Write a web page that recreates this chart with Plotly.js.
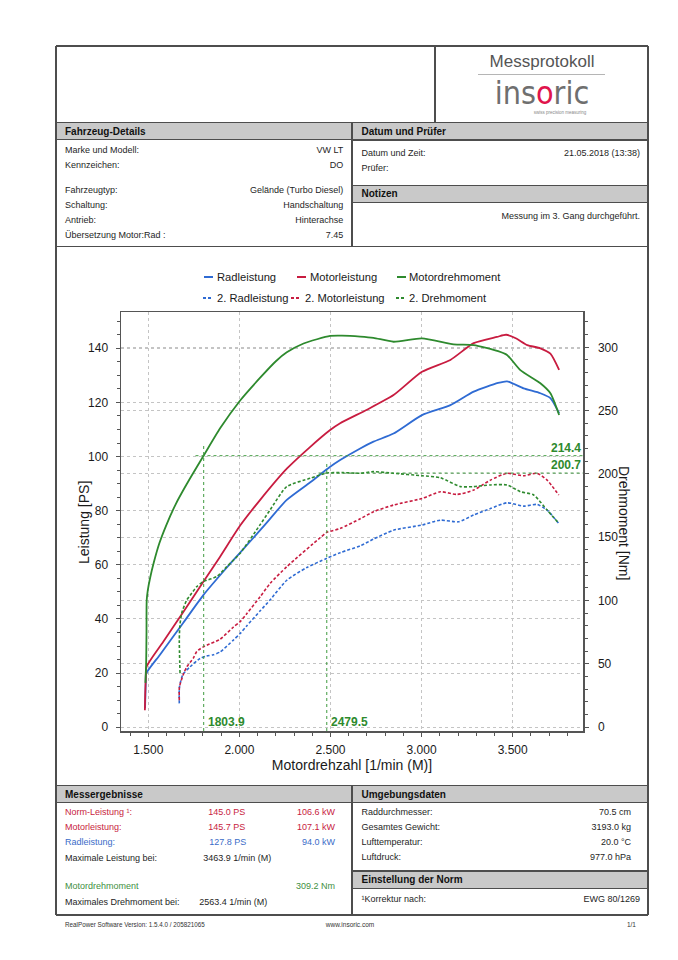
<!DOCTYPE html>
<html><head><meta charset="utf-8">
<script src="https://cdn.plot.ly/plotly-3.0.1.min.js"></script>
<style>
html,body{margin:0;padding:0;background:#fff;}
#page{position:relative;width:678px;height:960px;overflow:hidden;background:#fff;font-family:'Liberation Sans',Arial,sans-serif;}
#chart{position:absolute;left:0;top:0;width:678px;height:960px;}
#form{position:absolute;left:0;top:0;width:678px;height:960px;pointer-events:none;}
.t{position:absolute;font-size:9px;line-height:11px;color:#1e1e1e;white-space:nowrap;}
.b{font-weight:bold;font-size:10px;line-height:12px;color:#111;}
.ln{position:absolute;background:#4d4d4d;}
.band{position:absolute;background:#c9c9c9;}
</style></head>
<body>
<div id="page">
  <div id="chart"></div>
  <div id="form"></div>
</div>
<script>
// ---------------- data ----------------
const rpmRad   = [1482,1484,1486,1488,1564,1692,1802,1931,2004,2114,2168,2260,2389,2498,2553,2663,2736,2846,3002,3158,3286,3420,3469,3560,3652,3707,3755];
const psRad    = [7,12,17,19.8,26.8,38.6,48.8,59,64.5,72.8,77,84,90.5,96.2,98.7,103,105.5,108.5,115.3,119,124,127.2,127.8,125.2,123.4,121.6,116];

const rpmMotor = [1481,1483,1486,1490,1582,1692,1802,1894,2004,2114,2260,2389,2498,2553,2700,2846,3002,3158,3286,3414,3464,3520,3580,3652,3707,3755];
const psMotor  = [6.3,12.5,18,22.3,31.6,42.6,53.7,63,74.5,84,95.5,103.6,109.8,112.3,117.3,122.7,131.3,135.7,141.9,144.2,145,143.6,141.2,140,138,132];

const rpmTorque = [1484,1488,1490,1491,1497,1510,1530,1560,1600,1650,1711,1802,1894,2004,2114,2200,2260,2352,2498,2563,2663,2736,2846,3002,3176,3286,3420,3469,3542,3652,3707,3755];
const nmTorque  = [35,50,75,100,108,118,130,145,160,176,192,214,236,258,276,289,296,303,309,309.2,308.5,307.5,304.4,307,302.4,301.8,297,294,282,271.6,263.7,246.5];

const rpmRad2 = [1670,1671,1690,1729,1784,1820,1857,1894,1967,2004,2041,2114,2168,2260,2370,2480,2553,2663,2736,2846,3002,3103,3203,3286,3378,3469,3560,3634,3689,3753];
const psRad2  = [8.8,14.9,19.5,22.3,25.4,26.3,26.8,27.8,32.2,34.6,37.5,43,47,54.3,59,62.4,64.5,67,69.5,72.8,74.7,76.5,75.9,78.4,80.8,82.9,81.7,82.3,80.2,75.3];

const rpmMotor2 = [1670,1671,1692,1711,1747,1766,1802,1821,1894,1967,2004,2041,2114,2168,2260,2443,2480,2553,2663,2736,2846,3002,3103,3194,3286,3378,3469,3560,3634,3689,3753];
const psMotor2  = [10,14.9,19.5,22.3,25.5,28,29.7,30.3,32.5,37,39,42,48.2,53.1,59.3,70,72,73.4,77,79.6,82.1,84.5,87,86,87.6,91.3,93.8,92.9,93.8,91.3,85.8];

const rpmTorque2 = [1674,1670,1673,1683,1711,1729,1766,1802,1876,1931,2004,2114,2168,2260,2389,2480,2571,2663,2736,2846,3002,3103,3213,3286,3378,3469,3542,3615,3689,3753];
const nmTorque2  = [42.6,69,80,90,100.5,104,111,115,119,126.8,137.4,160,171.5,190,196.6,200.7,201,200.5,201.8,200.5,198.6,197,190,190,191.3,191.3,186,183.4,171.5,161];

const markRpm = [1803.9, 2479.5];
const markNm  = [214.4, 200.7];

const seriesNames = ['Radleistung','Motorleistung','Motordrehmoment','2. Radleistung','2. Motorleistung','2. Drehmoment'];
const xTitle = 'Motordrehzahl [1/min (M)]';
const yTitle = 'Leistung [PS]';
const y2Title = 'Drehmoment [Nm]';

// ---------------- styles / geometry ----------------
const BLUE='#2f6bd3', RED='#c81c40', GREEN='#2e8a2e', MARK='#3f9a3f';
const ML=121, MR=95, MT=312, MB=229, W=678, H=960;
const PW=W-ML-MR, PH=H-MT-MB;
const xRange=[1350,3886], yRange=[-1.404,153.41], y2Range=[-3.0,327.88];
const px=x=>(x-ML)/PW, py=y=>(MT+PH-y)/PH;

const solid=(c)=>({color:c,width:1.8,shape:'spline',smoothing:0.6});
const dashed=(c)=>({color:c,width:1.6,dash:'3px,2px',shape:'spline',smoothing:0.6});

const traces=[
  {x:rpmRad,y:psRad,name:seriesNames[0],line:solid(BLUE)},
  {x:rpmMotor,y:psMotor,name:seriesNames[1],line:solid(RED)},
  {x:rpmTorque,y:nmTorque,name:seriesNames[2],line:solid(GREEN),yaxis:'y2'},
  {x:rpmRad2,y:psRad2,name:seriesNames[3],line:dashed(BLUE)},
  {x:rpmMotor2,y:psMotor2,name:seriesNames[4],line:dashed(RED)},
  {x:rpmTorque2,y:nmTorque2,name:seriesNames[5],line:dashed(GREEN),yaxis:'y2'}
].map(t=>Object.assign({type:'scatter',mode:'lines',hoverinfo:'skip'},t));

const gridStyle={showgrid:true,gridcolor:'#c4c4c4',gridwidth:1,griddash:'3px,3px',zeroline:false};
const axStyle={showline:true,linecolor:'#555',linewidth:1.5,ticks:'outside',ticklen:4,tickcolor:'#555',tickwidth:1,
  tickfont:{size:12,color:'#1a1a1a'}};

const shapes=[], annotations=[];
// crosshair markers
markRpm.forEach((r,i)=>{
  shapes.push({type:'line',xref:'x',yref:'y2',x0:r-45,x1:xRange[1],y0:markNm[i],y1:markNm[i],line:{color:MARK,width:1,dash:'dot'}});
  shapes.push({type:'line',xref:'x',yref:'y2',x0:r,x1:r,y0:y2Range[0],y1:markNm[i]+8,line:{color:MARK,width:1,dash:'dot'}});
  annotations.push({xref:'x',yref:'paper',x:r,y:0,xanchor:'left',yanchor:'bottom',xshift:2,yshift:0,showarrow:false,
    text:'<b>'+r.toFixed(1)+'</b>',font:{size:12,color:GREEN}});
  annotations.push({xref:'paper',yref:'y2',x:1,y:markNm[i],xanchor:'right',yanchor:'bottom',showarrow:false,yshift:-1,
    text:'<b>'+markNm[i].toFixed(1)+'</b>',font:{size:12,color:GREEN}});
});
// manual legend
const legItems=[
  {x0:204,y:277,c:BLUE,d:'solid',tx:215},{x0:297,y:277,c:RED,d:'solid',tx:308},{x0:397,y:277,c:GREEN,d:'solid',tx:407},
  {x0:203,y:298,c:BLUE,d:'3px,2px',tx:215},{x0:291,y:298,c:RED,d:'3px,2px',tx:303},{x0:396,y:298,c:GREEN,d:'3px,2px',tx:407}
];
legItems.forEach((it,i)=>{
  shapes.push({type:'line',xref:'paper',yref:'paper',x0:px(it.x0),x1:px(it.x0+9),y0:py(it.y),y1:py(it.y),line:{color:it.c,width:2,dash:it.d}});
  annotations.push({xref:'paper',yref:'paper',x:px(it.tx),y:py(it.y),xanchor:'left',yanchor:'middle',showarrow:false,
    text:seriesNames[i],font:{size:11.2,color:'#1a1a1a'}});
});
// y axis titles
annotations.push({xref:'paper',yref:'paper',x:px(84),y:py(523),xanchor:'center',yanchor:'middle',showarrow:false,textangle:-90,
  text:yTitle,font:{size:14,color:'#1a1a1a'}});
annotations.push({xref:'paper',yref:'paper',x:px(624),y:py(523),xanchor:'center',yanchor:'middle',showarrow:false,textangle:90,
  text:y2Title,font:{size:14,color:'#1a1a1a'}});

const layout={
  width:W,height:H,margin:{l:ML,r:MR,t:MT,b:MB,pad:0},
  paper_bgcolor:'rgba(0,0,0,0)',plot_bgcolor:'rgba(0,0,0,0)',
  showlegend:false,separators:',.',
  font:{family:'Liberation Sans, Arial, sans-serif',color:'#1a1a1a'},
  xaxis:Object.assign({},axStyle,gridStyle,{range:xRange,tickmode:'linear',tick0:1500,dtick:500,separatethousands:true,
    mirror:true,ticklabelstandoff:3,
    minor:{dtick:100,ticks:'outside',ticklen:3,tickcolor:'#555',showgrid:false},
    title:{text:xTitle,font:{size:14,color:'#1a1a1a'},standoff:0}}),
  yaxis:Object.assign({},axStyle,gridStyle,{range:yRange,tickmode:'linear',tick0:0,dtick:20,ticklabelstandoff:5,
    minor:{dtick:5,ticks:'outside',ticklen:3,tickcolor:'#555',showgrid:false}}),
  yaxis2:Object.assign({},axStyle,gridStyle,{range:y2Range,overlaying:'y',side:'right',tickmode:'linear',tick0:0,dtick:50,
    ticklabelstandoff:7,minor:{dtick:10,ticks:'outside',ticklen:3,tickcolor:'#555',showgrid:false}}),
  shapes:shapes,annotations:annotations
};
Plotly.newPlot('chart',traces,layout,{staticPlot:true,displayModeBar:false});

// ---------------- protocol form (HTML) ----------------
const form=document.getElementById('form');
function box(cls,x0,y0,x1,y1){const d=document.createElement('div');d.className=cls;
  d.style.left=x0+'px';d.style.top=y0+'px';d.style.width=(x1-x0)+'px';d.style.height=(y1-y0)+'px';form.appendChild(d);return d;}
function hl(x0,x1,y){return box('ln',x0,y-0.75,x1,y+0.75);}
function vl(x,y0,y1){return box('ln',x-0.75,y0,x+0.75,y1);}
function txt(s,x,cy,o){o=o||{};const d=document.createElement('div');d.className='t'+(o.bold?' b':'');d.textContent=s;
  let lh=o.bold?5.7:5.3;
  if(o.size){const L=o.lh||Math.round(o.size*1.2);d.style.fontSize=o.size+'px';d.style.lineHeight=L+'px';lh=L/2+o.size*0.05;}
  d.style.top=(cy-lh)+'px';
  if(o.right){d.style.right=(W-x)+'px';} else if(o.center){d.style.left=(x-150)+'px';d.style.width='300px';d.style.textAlign='center';}
  else d.style.left=x+'px';
  if(o.color)d.style.color=o.color; if(o.family)d.style.fontFamily=o.family;
  form.appendChild(d);return d;}

const FL=56, FR=648, FT=46, FB=915, DV=352;
// gray bands
box('band',FL,122.7,DV,139.5); box('band',DV,122.7,FR,140);
box('band',DV,185.7,FR,202.7);
box('band',FL,785.7,DV,802.3); box('band',DV,785.7,FR,802.3);
box('band',DV,871,FR,888.3);
// frame
hl(FL,FR,FT); hl(FL,FR,FB); vl(FL,FT,FB); vl(FR,FT,FB);
vl(435,FT,122.7); hl(FL,FR,122.7);
hl(FL,DV,139.5); hl(DV,FR,140); hl(DV,FR,185.7); hl(DV,FR,202.7);
vl(DV,122.7,246.7); hl(FL,FR,246.7);
hl(FL,FR,785.7); hl(FL,FR,802.3); vl(DV,785.7,FB);
hl(DV,FR,871); hl(DV,FR,888.3);

// header logo
txt('Messprotokoll',542,63.3,{center:true,size:17,lh:18,color:'#555'});
const sep=box('ln',478,74,605,75); sep.style.background='#b5b5b5';
const logo=txt('',542,95,{center:true,size:32,lh:24,color:'#6f6f6f',family:'"DejaVu Sans Condensed","DejaVu Sans",sans-serif'});
logo.innerHTML='ins<span style="color:#e0144c">o</span>ric';
txt('swiss precision measuring',560,113.2,{center:true,size:4.5,lh:5,color:'#888'});

// section headers
txt('Fahrzeug-Details',65,131.5,{bold:true}); txt('Datum und Prüfer',361.5,131.5,{bold:true});
txt('Notizen',361.5,194,{bold:true});
txt('Messergebnisse',65,794.3,{bold:true}); txt('Umgebungsdaten',361.5,794.3,{bold:true});
txt('Einstellung der Norm',361.5,879.7,{bold:true});

// vehicle details
const vehLabels=['Marke und Modell:','Kennzeichen:','Fahrzeugtyp:','Schaltung:','Antrieb:','Übersetzung Motor:Rad :'];
const vehValues=['VW LT','DO','Gelände (Turbo Diesel)','Handschaltung','Hinterachse','7.45'];
const vehY=[150,165,190,205,220,235];
vehLabels.forEach((s,i)=>{txt(s,65,vehY[i]); txt(vehValues[i],343.3,vehY[i],{right:true});});
txt('Datum und Zeit:',361.5,153.3); txt('21.05.2018 (13:38)',640,153.3,{right:true});
txt('Prüfer:',361.5,168);
txt('Messung im 3. Gang durchgeführt.',640,216.7,{right:true});

// results
const rY=[812.7,827.7,842.7,858.3,886.7,902.3];
const TBLUE='#3a6cc8', TGREEN='#3f8f3f';
txt('Norm-Leistung ¹:',65,rY[0],{color:RED}); txt('145.0 PS',208.3,rY[0],{color:RED}); txt('106.6 kW',335,rY[0],{right:true,color:RED});
txt('Motorleistung:',65,rY[1],{color:RED}); txt('145.7 PS',208.3,rY[1],{color:RED}); txt('107.1 kW',335,rY[1],{right:true,color:RED});
txt('Radleistung:',65,rY[2],{color:TBLUE}); txt('127.8 PS',209.3,rY[2],{color:TBLUE}); txt('94.0 kW',335,rY[2],{right:true,color:TBLUE});
txt('Maximale Leistung bei:',65,rY[3]); txt('3463.9 1/min (M)',203.3,rY[3]);
txt('Motordrehmoment',65,rY[4],{color:TGREEN}); txt('309.2 Nm',335,rY[4],{right:true,color:TGREEN});
txt('Maximales Drehmoment bei:',65,rY[5]); txt('2563.4 1/min (M)',199.3,rY[5]);

// environment
const envLabels=['Raddurchmesser:','Gesamtes Gewicht:','Lufttemperatur:','Luftdruck:'];
const envValues=['70.5 cm','3193.0 kg','20.0 °C','977.0 hPa'];
const eY=[812.7,827.7,842.7,857.7];
envLabels.forEach((s,i)=>{txt(s,361.5,eY[i]); txt(envValues[i],631,eY[i],{right:true});});
txt('¹Korrektur nach:',361.5,899.3); txt('EWG 80/1269',640,899.3,{right:true});

// footer
txt('RealPower Software Version: 1.5.4.0 / 205821065',65,925.7,{size:6.3,color:'#333'});
txt('www.insoric.com',350,925.7,{center:true,size:6.5,color:'#333'});
txt('1/1',636,925.7,{right:true,size:6.5,color:'#333'});
</script>
</body></html>
